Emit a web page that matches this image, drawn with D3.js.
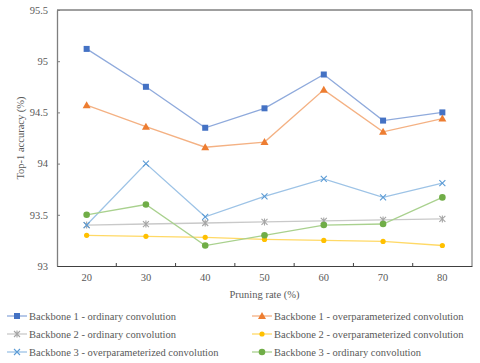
<!DOCTYPE html>
<html><head><meta charset="utf-8">
<script src="https://cdn.jsdelivr.net/npm/d3@7"></script>
<style>body{margin:0;background:#fff}svg{display:block}text{font-family:"Liberation Serif","Times New Roman",serif}</style>
</head><body>
<svg id="c" width="480" height="363"></svg>
<script>
const categories = ["20","30","40","50","60","70","80"];
const yTicks = [93, 93.5, 94, 94.5, 95, 95.5];
const seriesNames = [
  "Backbone 1 - ordinary convolution",
  "Backbone 1 - overparameterized convolution",
  "Backbone 2 - ordinary convolution",
  "Backbone 2 - overparameterized convolution",
  "Backbone 3 - overparameterized convolution",
  "Backbone 3 - ordinary convolution"
];
const b1Ordinary = [95.12, 94.75, 94.35, 94.54, 94.87, 94.42, 94.50];
const b1Over     = [94.57, 94.36, 94.16, 94.21, 94.72, 94.31, 94.44];
const b2Ordinary = [93.40, 93.41, 93.42, 93.43, 93.44, 93.45, 93.46];
const b2Over     = [93.30, 93.29, 93.28, 93.26, 93.25, 93.24, 93.20];
const b3Over     = [93.40, 94.00, 93.48, 93.68, 93.85, 93.67, 93.81];
const b3Ordinary = [93.50, 93.60, 93.20, 93.30, 93.40, 93.41, 93.67];

const series = [
  {name: seriesNames[0], values: b1Ordinary, color: "#4472C4", line: "#8FAADC", marker: "square"},
  {name: seriesNames[1], values: b1Over, color: "#ED7D31", line: "#F4B183", marker: "triangle"},
  {name: seriesNames[2], values: b2Ordinary, color: "#A5A5A5", line: "#C9C9C9", marker: "star"},
  {name: seriesNames[3], values: b2Over, color: "#FFC000", line: "#FFD966", marker: "circleSmall"},
  {name: seriesNames[4], values: b3Over, color: "#5B9BD5", line: "#9DC3E6", marker: "x"},
  {name: seriesNames[5], values: b3Ordinary, color: "#70AD47", line: "#A9D18E", marker: "circle"}
];

const FS = "10.5px";
const svg = d3.select("#c");
const L = 57, R = 472, T = 10, B = 266;
const x = d3.scaleBand().domain(categories).range([L, R]);
const y = d3.scaleLinear().domain([93, 95.5]).range([B, T]);
const cx = d => x(d) + x.bandwidth() / 2;

// frame
svg.append("line").attr("x1", L).attr("x2", R).attr("y1", T).attr("y2", T).attr("stroke", "#404040").attr("stroke-width", 1);
svg.append("line").attr("x1", R).attr("x2", R).attr("y1", T).attr("y2", B).attr("stroke", "#8c8c8c").attr("stroke-width", 1.3);

// y axis
const yAxis = svg.append("g").attr("transform", `translate(${L},0)`)
  .call(d3.axisLeft(y).tickValues(yTicks).tickFormat(d => String(d)).tickSizeInner(-3).tickSizeOuter(0).tickPadding(9));
yAxis.select(".domain").attr("stroke", "#7f7f7f").attr("stroke-width", 1.3);
yAxis.selectAll(".tick line").attr("stroke", "#7f7f7f");
yAxis.selectAll("text").attr("fill", "#595959").style("font-size", FS).style("font-family", '"Liberation Serif",serif');

// x axis with ticks between categories
const xg = svg.append("g").attr("transform", `translate(0,${B})`);
xg.call(d3.axisBottom(x).tickSize(0).tickPadding(8));
xg.select(".domain").attr("stroke", "#404040").attr("stroke-width", 1.2);
xg.selectAll("text").attr("fill", "#595959").style("font-size", FS).style("font-family", '"Liberation Serif",serif');
xg.selectAll(".sep").data(categories.slice(1)).enter().append("line")
  .attr("x1", d => x(d)).attr("x2", d => x(d)).attr("y1", 0).attr("y2", -3)
  .attr("stroke", "#404040");

// axis titles
svg.append("text").attr("transform", `translate(24,${(T + B) / 2}) rotate(-90)`)
  .attr("text-anchor", "middle").attr("fill", "#595959").style("font-size", FS).text("Top-1 accuracy (%)");
svg.append("text").attr("x", (L + R) / 2).attr("y", 298)
  .attr("text-anchor", "middle").attr("fill", "#595959").style("font-size", FS).text("Pruning rate (%)");

function drawMarker(g, type, color) {
  if (type === "square") g.append("rect").attr("x", -3).attr("y", -3).attr("width", 6).attr("height", 6).attr("fill", color);
  else if (type === "triangle") g.append("path").attr("d", "M0,-4L4,3L-4,3Z").attr("fill", color);
  else if (type === "circle") g.append("circle").attr("r", 3.3).attr("fill", color);
  else if (type === "circleSmall") g.append("circle").attr("r", 2.6).attr("fill", color);
  else if (type === "x") g.append("path").attr("d", "M-3,-3L3,3M-3,3L3,-3").attr("stroke", color).attr("stroke-width", 1.1).attr("fill", "none");
  else if (type === "star") g.append("path").attr("d", "M-3,-3L3,3M-3,3L3,-3M0,-3.5L0,3.5").attr("stroke", color).attr("stroke-width", 1.1).attr("fill", "none");
}

const line = d3.line().x((d, i) => cx(categories[i])).y(d => y(d));
series.forEach(s => {
  svg.append("path").datum(s.values).attr("d", line).attr("fill", "none").attr("stroke", s.line).attr("stroke-width", 1.3);
  s.values.forEach((v, i) => {
    const g = svg.append("g").attr("transform", `translate(${cx(categories[i])},${y(v)})`);
    drawMarker(g, s.marker, s.color);
  });
});

// legend
const legPos = [[7, 316], [252, 316], [7, 334], [252, 334], [7, 352], [252, 352]];
series.forEach((s, i) => {
  const [lx, ly] = legPos[i];
  svg.append("line").attr("x1", lx).attr("x2", lx + 20).attr("y1", ly).attr("y2", ly).attr("stroke", s.line).attr("stroke-width", 1.3);
  const g = svg.append("g").attr("transform", `translate(${lx + 10},${ly})`);
  drawMarker(g, s.marker, s.color);
  svg.append("text").attr("x", lx + 22).attr("y", ly + 4).attr("fill", "#595959").style("font-size", FS).text(s.name);
});
</script>
</body></html>
